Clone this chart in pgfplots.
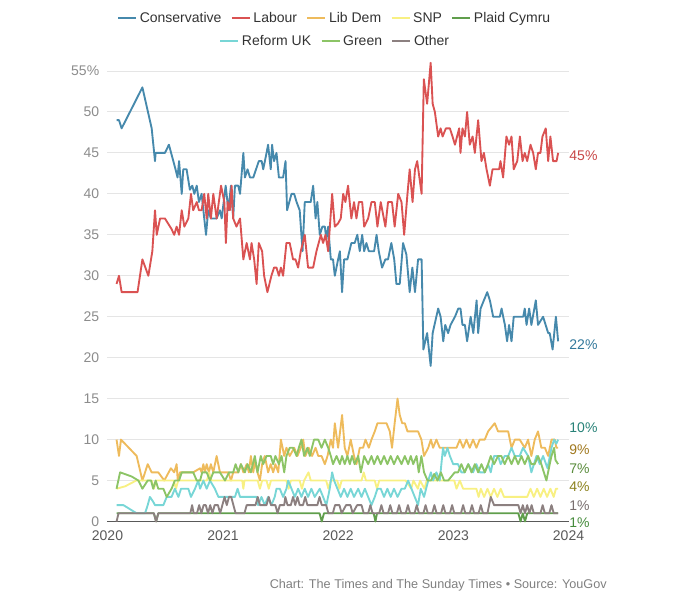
\documentclass[border=0pt]{standalone}
\usepackage{fontspec}
\setmainfont{Liberation Sans}
\usepackage{pgfplots}
\pgfplotsset{compat=1.18}

\definecolor{con}{RGB}{70,137,172}
\definecolor{lab}{RGB}{218,82,82}
\definecolor{ld}{RGB}{238,187,92}
\definecolor{snp}{RGB}{248,240,130}
\definecolor{pc}{RGB}{96,158,76}
\definecolor{ref}{RGB}{120,214,214}
\definecolor{grn}{RGB}{140,196,102}
\definecolor{oth}{RGB}{140,128,128}

\newcommand{\fs}{\fontsize{10.5}{12}\selectfont}

% x = weeks since 1 Jan 2020 (weekly YouGov polls)
\pgfplotsset{
  pollaxis/.style={
    scale only axis, width=345.75pt, height=337.875pt,
    xmin=0, xmax=208.7, ymin=0, ymax=55,
    clip=false,
  },
  legrow/.style={
    legend style={draw=none, fill=none, font=\fs, text=black!80,
      /tikz/every even column/.append style={column sep=5pt},
      nodes={inner sep=2pt}},
    legend image code/.code={\draw[##1, line width=1.5pt] (0pt,0pt) -- (13.5pt,0pt);},
  },
}

\begin{document}
\begin{tikzpicture}
\useasboundingbox (-80.625pt,-60.375pt) rectangle (429.375pt,391.125pt);

\begin{axis}[
  pollaxis, legrow,
  axis lines*=left,
  y axis line style={draw=none},
  x axis line style={draw=black!65, line width=1pt},
  major tick length=0pt,
  ytick={0,5,...,55},
  yticklabels={0,5,10,15,20,25,30,35,40,45,50,55\%},
  xtick={0,52.29,104.43,156.57,208.71},
  xticklabels={2020,2021,2022,2023,2024},
  yticklabel style={font=\fs, text=black!45, anchor=east, inner sep=0pt, xshift=-6pt},
  xticklabel style={font=\fs, text=black!65, anchor=north, inner sep=0pt, yshift=-7pt},
  ymajorgrids, grid style={draw=black!10, line width=0.75pt},
  legend columns=5,
  legend style={at={(0.4935,1.1177)}, anchor=center},
  every axis plot/.append style={line width=1.4pt, line join=round},
]

\addplot[con] coordinates {
(4.1,49) (5.2,49) (6.4,48) (15.8,53) (20,48) (21.5,44) (21.8,45) (26,45) (27.8,46)
(30.8,43) (31.7,42) (32.4,44) (33.6,40) (34.3,43) (35.8,43) (37.3,40.5) (38.4,41)
(39.3,40) (40.4,41) (41.4,39) (42.6,40) (43.4,38) (44.6,35) (45.6,38) (46.8,37)
(49.4,37) (50.9,38) (51.7,37) (53.5,41) (54.7,38) (55.9,41) (56.9,37) (57.7,41)
(59.2,41) (60,40) (61.5,45) (62.2,42) (63.4,43) (64.5,42) (66,42) (68.5,44) (69.8,44)
(70.5,43) (72,45) (72.7,46) (73.9,43) (74.5,46) (75.4,44) (76.5,45) (77.6,42) (79.5,42)
(80.6,44) (81.3,38) (83.3,40) (84.5,40) (85.6,39) (87,38) (88.3,33) (89.3,39) (92,39)
(93.1,41) (94.2,37) (95,39) (96.1,35) (97.3,36) (98.4,36) (99.1,34.4) (99.9,36)
(101.1,32) (102.1,32) (102.9,30) (104.4,32) (105.2,33) (106.2,28) (107.1,32) (108.6,32)
(110.4,34) (111.9,34) (113.1,35) (114.2,33) (115.3,35) (116.2,33) (117.2,34) (118.3,33)
(120.7,33) (121.8,35) (122.8,33) (124.3,31) (125.8,32) (127,32) (128.5,34) (129.8,32)
(130.8,29) (132.3,29) (133.8,34) (135.3,32.6) (136.8,28) (138,31) (139.2,28) (140.6,32)
(142.2,32) (143,21) (144.7,23) (146.3,19) (147.2,23) (149.7,26) (150.8,25) (152,22)
(152.9,24) (154.2,23) (155.3,24) (157.3,25) (158.8,26) (159.8,26) (160.7,24) (161.8,24)
(162.8,22) (164.4,25) (165.6,23) (167.1,27) (167.8,23) (168.9,26) (170.4,27) (171.9,28)
(173.1,27) (174.6,25) (177.6,25) (178.4,26) (179.9,24) (180.9,22) (181.8,24) (182.9,22)
(183.9,25) (188.2,25) (188.9,26) (189.7,24) (190.9,26) (191.9,24) (193.9,27) (194.9,24)
(197.2,25) (199.5,23) (200.2,23) (201.5,21) (203,25) (204,22)
};
\addlegendentry{Conservative\strut}

\addplot[lab] coordinates {
(4.1,29) (5.2,30) (6.4,28) (13.6,28) (15.8,32) (18.5,30) (20.3,33) (21.5,38) (22.3,35)
(23.8,37) (26,37) (29,35.7) (30.2,35) (31.3,36) (32.4,35) (33.6,38) (34.8,36) (36.6,37)
(37.8,40) (38.8,38) (40.4,39) (41.4,38) (42.6,38) (43.8,40) (44.9,37) (45.6,40) (46.8,37)
(47.9,40) (49.4,37) (51.4,41) (52.9,39) (53.6,34) (54.4,39) (55.4,38) (56.2,41) (56.9,37)
(58.4,36) (60,37) (61.5,32) (63,34) (64.5,32) (65.2,34) (66.4,32) (67.5,29) (68.5,34)
(70,33) (70.9,30) (72.4,28) (74.2,30) (75.4,31) (76.5,31) (77.6,30) (78.5,31) (79.5,30)
(81,34) (82.5,34) (84,32) (85.1,32) (86.3,31) (87.5,33) (89.3,35) (90.8,31) (93.1,31)
(94.6,33) (96.6,35) (97.6,34) (98.7,35) (99.9,33) (101.7,40) (102.9,36) (104.4,36.4)
(105.6,37) (106.7,40) (107.7,39) (108.9,41) (110.4,37) (111.6,39) (112.7,37) (113.8,39)
(115.3,39) (116.2,36) (118,37) (119.5,39) (121,39) (122.2,36) (123.7,39) (125.8,36)
(127,39) (128.8,39) (130,36) (131.6,40) (133.1,39) (134.3,35) (135.8,40) (136.8,43)
(138.1,39) (139.2,43) (140.2,44) (142.2,40) (143.2,54) (144.7,51) (146.3,56) (147.2,51)
(148.2,50) (149.7,47) (150.8,48) (151.7,47) (153.2,48) (155,48) (156.2,47) (157.3,46)
(159.2,48) (159.8,45) (160.7,48) (161.8,47) (162.8,50) (164,46) (165.3,47) (166.3,45)
(167.8,49) (169.3,44) (170.4,45) (171.6,43) (173.1,41) (174.3,43) (177.3,43) (177.9,44)
(179.1,42) (180.6,47) (181.8,46) (182.9,47) (183.9,43) (185.5,44) (186.7,47) (187.9,44)
(188.9,45) (190,44) (191.5,46) (192.7,45) (193.9,43) (194.9,45) (196,45) (196.9,47)
(198.4,48) (199.5,44) (200.5,47) (201.7,44) (203.3,44) (204,45)
};
\addlegendentry{Labour\strut}

\addplot[ld] coordinates {
(4.1,10) (5.2,8) (6.1,10) (13.2,8) (15.8,5) (18.2,7) (20,6) (23,6) (25.7,5) (28.7,6.5)
(30.2,6) (31.3,7) (31.8,5) (32.8,6) (38.8,6) (41.9,6.5) (42.6,6) (43.4,7) (44.1,6)
(44.9,7) (45.9,6) (46.8,7) (47.9,6) (49.4,8) (50.9,6) (54.7,6) (55.9,5) (56.9,6) (59.2,6)
(60.4,7) (61.5,6) (63,7) (64,6) (64.9,8) (66,6) (66.7,7.3) (67.9,6) (69,5) (70,7)
(71.2,8) (72.7,6) (73.9,7) (75,6) (76,7) (77.3,6) (78.5,10) (80,8) (81,9) (82.5,8)
(84.5,9) (86,8) (87.5,9) (88.6,10) (89.6,8) (91.1,9) (92.6,8) (94.2,9) (95.4,8) (96.9,8)
(98.4,7) (99.6,8) (101.1,10) (102.1,9) (102.9,12) (104.4,9) (106.2,13) (107.4,9)
(108.6,8) (110.1,10) (111.6,8) (112.7,7) (114.2,9) (115.7,9) (116.8,10) (118.3,9)
(119.5,10) (121,11) (122.2,12) (125.2,12) (126.3,12) (127.8,11) (128.8,9) (130,12)
(131.3,15) (132.3,13) (133.4,12) (134.6,12) (135.8,11) (137.6,11) (139.1,11) (140.6,11)
(142.1,10) (143.3,8) (145.2,9) (146.4,10) (147.4,9) (148.9,10) (150.4,9) (158,9)
(159.5,10) (161,9) (162.5,10) (164,9) (165.5,10) (167,9) (168.5,10) (170.8,10) (172.3,11)
(175.3,12) (176.8,11) (179.8,11) (181.4,11) (182.9,9) (184.4,10) (186.6,10) (188.9,9)
(190.4,10) (191.9,8) (193.4,10) (194.9,11) (196.4,9) (198,9) (199.5,8) (201,10)
(202.5,10) (203.2,9) (204,9)
};
\addlegendentry{Lib Dem\strut}

\addplot[snp] coordinates {
(4.1,4) (8,4.3) (13,5) (20,5) (21,4) (22,5) (30,5) (31,4) (32,5) (45,5) (46,6) (47,5)
(61,5) (61.5,4) (62,5) (68,5) (69,4) (70,5) (72,5) (73,4) (74,5) (81,5) (82,4) (83,5)
(87,5) (88,4) (89,5) (91,6) (92,5) (99,5) (100,4) (101,5) (104,5) (105,4) (106,5)
(115,5) (116,6) (117,5) (121,5) (122,4) (123,5) (135,5) (137.5,4) (138.5,5) (140.5,4)
(141.5,5) (143.5,4) (144.5,5) (157,5) (158,4) (159.5,5) (161,4) (167,4) (168,3) (169,4)
(170.5,3) (172,4) (173.5,3) (175,4) (176.5,3) (178,4) (179.5,3) (181,3) (190,3)
(191.5,4) (193,3) (194.5,4) (196,3) (197.5,4) (199,3) (200.5,4) (202,3) (203,4) (204,4)
};
\addlegendentry{SNP\strut}

\addplot[pc] coordinates {
(4.1,1) (21,1) (22,0) (23,1) (96,1) (97,0) (98,1) (120.5,1) (121.3,0) (122,1)
(186,1) (187,0) (188,1) (189,0) (190,1) (204,1)
};
\addlegendentry{Plaid Cymru\strut}

\addplot[ref, forget plot] coordinates {
(4.1,2) (7.2,2) (13.2,1) (17,1) (18.2,2) (19.2,3) (20.7,2.4) (21.5,2) (25.3,2) (26.8,3)
(29,3) (30.5,4) (32.1,3) (33.3,4) (36.6,4) (37.8,3) (39.6,4) (41.1,5) (41.9,4) (43.4,5)
(44.9,4) (46.4,5) (48.6,4) (50.2,3) (56.2,3) (57.7,3) (58.9,4) (60,3) (67.5,3) (68.2,2)
(69.7,3) (71.2,2) (72.7,3) (74.2,2) (75.7,3) (76.5,4) (78,4) (79.5,3) (81,4) (81.8,5)
(83.3,4) (84.8,3) (86.3,4) (87.8,3) (89.3,4) (90.8,3) (92.3,4) (93.8,3) (96.1,4) (97.6,3)
(99.1,2) (100.6,4) (101.7,6) (102.6,5) (104.1,4) (105.6,3) (107.1,4) (108.6,3) (110.1,4)
(111.6,3) (113.5,4) (115,3) (116.5,4) (118,3) (119.5,2) (121,3) (122.2,4) (123.7,4)
(125.2,3) (126.7,4) (128.2,3) (129.7,4) (131.3,3) (133.1,4) (134.6,4) (136.1,5) (137.6,4)
(139.1,3) (140.6,2) (141.8,4) (143.3,3) (145.2,5) (146.4,6) (147.4,5) (148.9,6) (150.4,5)
(151.9,9) (152.7,8) (153.9,9) (155,8) (156.5,7) (158.7,7) (160.2,6) (161.7,6) (163.3,7)
(165.5,6) (167,7) (168.5,6) (170.8,6) (172.3,7) (173.5,6) (175,8) (176.8,8) (178,7)
(179.8,8) (181.4,8) (182.9,9) (184.4,8) (186.6,8) (188.1,9) (190.4,8) (191.9,6) (194.2,8)
(195.7,7) (197.2,8) (199.2,6.5) (201,9) (202.2,10) (203.2,9.5) (204,10)
};

\addplot[grn, forget plot] coordinates {
(4.1,4) (5.7,6) (10.9,5.5) (14,5) (15.8,4) (18.2,5) (19.7,5) (20.7,4) (21.8,5) (23,4)
(25.3,4) (26.8,3) (29,4) (30.5,5) (32.4,5) (33.6,6) (38.8,6) (40.4,5) (41.9,5) (42.9,6)
(44.9,6) (46.4,5) (47.9,6) (50.9,6) (53.2,5) (55,6) (56.9,6) (58,7) (59.2,6) (60.4,7)
(62.2,6) (63.4,7) (64.9,6) (66.7,8) (67.9,6) (69.4,8) (70.5,7) (72,8) (73.9,8) (75,7)
(76,8) (77.6,7) (78.8,8) (80,6) (81,8) (82.5,9) (84,9) (85.6,8) (86.6,9) (87.8,10)
(89,8) (90.5,9) (91.6,8) (93.5,10) (95.4,10) (96.9,9) (98.4,10) (99.9,9) (101.1,8)
(102.1,7) (103.7,8) (105.2,7) (106.2,8) (107.4,7) (108.6,8) (109.7,7) (110.7,8)
(111.9,7) (113.5,8) (114.7,6) (116.2,8) (118,7) (119.5,8) (120.7,7) (122.2,8) (123.7,7)
(125.2,8) (126.7,7) (128.2,8) (129.7,7) (131.3,8) (133.1,7) (134.6,8) (136.1,7)
(137.3,8) (138.4,7) (139.9,8) (140.9,6) (142.1,8) (143.3,6) (144.9,5) (146.4,5)
(147.9,5.8) (149.4,5) (150.9,6) (152.4,5) (154.2,5) (157.2,6) (158.7,6) (160.2,7)
(161.7,6) (163.3,7) (164.8,6) (166.3,7) (167.8,6) (169.3,7) (170.8,6) (172.3,7)
(173.5,8) (175,7) (176.8,8) (178.3,8) (179.8,7) (181.4,8) (182.9,7) (184.4,8) (185.9,7)
(187.4,8) (188.9,7) (190.4,8) (191.9,7) (193.4,7) (194.9,8) (196.4,7) (198.7,5)
(200.2,7) (201,8) (202.2,9) (202.8,7.5) (204,7)
};

\addplot[oth, forget plot] coordinates {
(4.1,0) (5,1) (21,1) (22,0) (23,1) (37.5,1) (38.3,2) (39,1) (40.5,1) (41.5,2) (42.5,1)
(43.5,2) (44.5,2) (45.5,1) (46.5,2) (47.5,1) (48.5,2) (50,2) (51,1) (52,2) (53,3) (54,2)
(55,3) (56,3) (57,2) (58,1) (62,1) (63,2) (67,2) (68,3) (69,2) (72,2) (73,3) (74,2)
(76,2) (77,1) (78,2) (80,2) (80.5,3) (81.5,2) (83,2) (84,3) (85,2) (86,3) (87,2)
(88.5,2) (89.5,3) (90.5,2) (95,2) (96,3) (97,2) (99,2) (100,1) (102,1) (103,2) (105,2)
(106,1) (108,2) (110,2) (111,1) (113,2) (115,2) (116,1) (118,1) (119,2) (120,1) (123,1)
(124,2) (125,1) (127,1) (128,2) (129,1) (131,1) (132,2) (133,1) (135,1) (136,2) (137,1)
(139,1) (140,2) (141,1) (143,1) (144,2) (145,1) (147,1) (148,2) (149,1) (151,1) (152,2)
(153,1) (155,1) (156,2) (157,1) (160,1) (161,2) (162,1) (164,1) (165,2) (166,1) (168,1)
(169,2) (170,1) (172,1) (173.5,3) (175,2) (186,2) (187,1) (188,2) (189,1) (190,2)
(191,1) (192,2) (193,1) (196,1) (197,2) (198,1) (200,1) (201,2) (202,1) (204,1)
};

% end-of-line value labels
\begin{scope}[every node/.style={anchor=west, font=\fs, inner sep=0.5pt}]
\node[text={rgb,255:red,200;green,70;blue,70}]   at (axis cs:208.7,44.6) {45\%};
\node[text={rgb,255:red,50;green,120;blue,155}]  at (axis cs:208.7,21.6) {22\%};
\node[text={rgb,255:red,40;green,130;blue,120}]  at (axis cs:208.7,11.4) {10\%};
\node[text={rgb,255:red,160;green,120;blue,30}]  at (axis cs:208.7,8.8) {9\%};
\node[text={rgb,255:red,90;green,140;blue,60}]   at (axis cs:208.7,6.4) {7\%};
\node[text={rgb,255:red,140;green,130;blue,30}]  at (axis cs:208.7,4.2) {4\%};
\node[text={rgb,255:red,120;green,110;blue,110}] at (axis cs:208.7,1.9) {1\%};
\node[text={rgb,255:red,70;green,140;blue,60}]   at (axis cs:208.7,-0.2) {1\%};
\end{scope}

\node[anchor=east, font=\fontsize{9.5}{11}\selectfont, text=black!50, inner sep=0pt]
  at (rel axis cs:1.0835,-0.141) {Chart: The Times and The Sunday Times • Source: YouGov};
\end{axis}

% second legend row
\begin{axis}[
  pollaxis, legrow, hide axis,
  legend columns=3,
  legend style={at={(0.4946,1.0666)}, anchor=center},
]
\addlegendimage{ref}
\addlegendentry{Reform UK\strut}
\addlegendimage{grn}
\addlegendentry{Green\strut}
\addlegendimage{oth}
\addlegendentry{Other\strut}
\end{axis}
\end{tikzpicture}
\end{document}
